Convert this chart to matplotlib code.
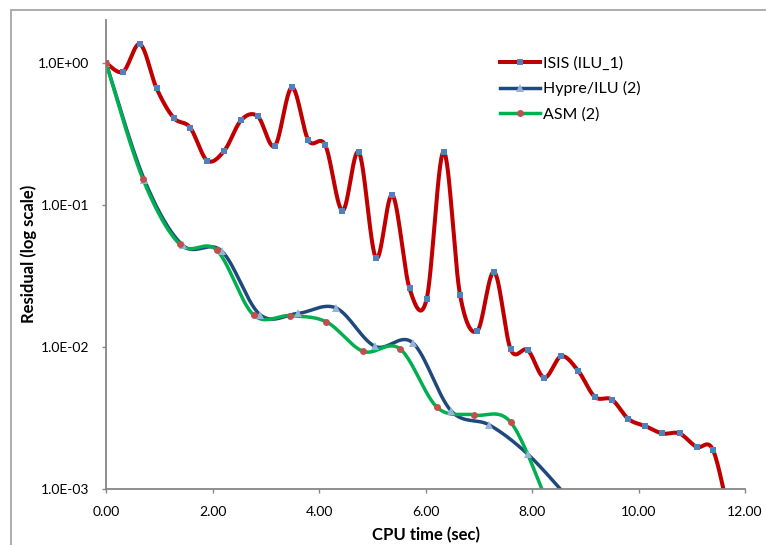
import numpy as np
import matplotlib
matplotlib.use("Agg")
import matplotlib.pyplot as plt
from matplotlib.patches import Rectangle
from matplotlib.lines import Line2D

plt.rcParams['font.family'] = ['Lato', 'DejaVu Sans']

# ---- data ----
isis_x = [0.00, 0.32, 0.64, 0.95, 1.27, 1.58, 1.90, 2.22, 2.54, 2.85, 3.17, 3.49,
          3.80, 4.12, 4.44, 4.75, 5.07, 5.38, 5.70, 6.02, 6.34, 6.65, 6.97, 7.29,
          7.60, 7.92, 8.23, 8.55, 8.87, 9.18, 9.50, 9.81, 10.13, 10.45, 10.77,
          11.09, 11.40, 11.72]
isis_y = [1.0, 0.865, 1.35, 0.66, 0.41, 0.35, 0.205, 0.24, 0.395, 0.42, 0.26, 0.67,
          0.285, 0.262, 0.091, 0.234, 0.0423, 0.117, 0.0258, 0.0216, 0.236, 0.0231,
          0.0129, 0.0337, 0.0096, 0.0095, 0.00608, 0.0086, 0.00677, 0.00445,
          0.00426, 0.00311, 0.00277, 0.00246, 0.00246, 0.00198, 0.00188, 0.0006]

hypre_x = [0.00, 0.72, 1.44, 2.17, 2.89, 3.60, 4.32, 5.05, 5.76, 6.48, 7.20, 7.92, 8.64]
hypre_y = [1.0, 0.150, 0.052, 0.0474, 0.0169, 0.0172, 0.0188, 0.0101, 0.0107,
           0.00355, 0.00282, 0.00176, 0.0009]

asm_x = [0.00, 0.69, 1.39, 2.08, 2.77, 3.46, 4.14, 4.83, 5.52, 6.22, 6.91, 7.60, 8.29]
asm_y = [1.0, 0.153, 0.0526, 0.048, 0.0168, 0.0166, 0.0150, 0.0093, 0.0097,
         0.00375, 0.00332, 0.00295, 0.0008]

labels = ["ISIS (ILU_1)", "Hypre/ILU (2)", "ASM (2)"]
x_ticks = [0, 2, 4, 6, 8, 10, 12]
x_tick_labels = ["0.00", "2.00", "4.00", "6.00", "8.00", "10.00", "12.00"]
y_ticks = [1e-3, 1e-2, 1e-1, 1e0]
y_tick_labels = ["1.0E-03", "1.0E-02", "1.0E-01", "1.0E+00"]


def smooth(xs, ys, n=30):
    """Excel-style smoothed line (Bezier through points) in x / log10(y) space."""
    px = np.asarray(xs, float)
    py = np.log10(np.asarray(ys, float))
    P = np.column_stack([px, py])
    Pe = np.vstack([P[0], P, P[-1]])
    out = []
    t = np.linspace(0, 1, n)[:, None]
    for i in range(len(P) - 1):
        p0, p1, p2, p3 = Pe[i], Pe[i + 1], Pe[i + 2], Pe[i + 3]
        c1 = p1 + (p2 - p0) / 6.0
        c2 = p2 - (p3 - p1) / 6.0
        seg = ((1 - t) ** 3) * p1 + 3 * ((1 - t) ** 2) * t * c1 + 3 * (1 - t) * t ** 2 * c2 + t ** 3 * p2
        out.append(seg if i == 0 else seg[1:])
    S = np.vstack(out)
    return S[:, 0], 10 ** S[:, 1]


W, H = 766, 545
fig = plt.figure(figsize=(W / 100, H / 100), dpi=100)
fig.patches.append(Rectangle((11 / W, -0.1), 1.2, 1 - 10 / H + 0.1, transform=fig.transFigure,
                             fill=False, edgecolor='#A6A6A6', linewidth=1.3))

ax = fig.add_axes([106 / W, 1 - 489 / H, (745 - 106) / W, (489 - 20) / H])

series = [
    (isis_x, isis_y, '#C00000', 2.9, 's', '#4F81BD', 5.0),
    (hypre_x, hypre_y, '#1F497D', 2.5, '^', '#95B3D7', 5.5),
    (asm_x, asm_y, '#00B050', 2.5, 'o', '#C0504D', 5.0),
]
handles = []
for k, (xs, ys, lc, lw, mk, mc, ms) in enumerate(series):
    sx, sy = smooth(xs, ys)
    ax.plot(sx, sy, color=lc, lw=lw, solid_capstyle='round', zorder=2 + k * 0.1)
    ax.plot(xs, ys, linestyle='none', marker=mk, markersize=ms, color=mc,
            markeredgewidth=0, zorder=4 + k * 0.1)
    handles.append(Line2D([], [], color=lc, lw=lw, marker=mk, markersize=ms,
                          markerfacecolor=mc, markeredgewidth=0))

ax.set_yscale('log')
ax.set_xlim(0, 12)
ax.set_ylim(1e-3, 2.0)
ax.set_xticks(x_ticks)
ax.set_xticklabels(x_tick_labels)
ax.set_yticks(y_ticks)
ax.set_yticklabels(y_tick_labels)
ax.yaxis.set_minor_locator(matplotlib.ticker.NullLocator())

for s in ['top', 'right']:
    ax.spines[s].set_visible(False)
for s in ['left', 'bottom']:
    ax.spines[s].set_color('#868686')
    ax.spines[s].set_linewidth(1.3)
ax.tick_params(axis='both', which='major', direction='out', length=3, width=1.0,
               color='#868686', labelsize=10, labelcolor='#000000')
ax.tick_params(axis='x', pad=9.5)
ax.tick_params(axis='y', pad=9)

ax.set_xlabel('CPU time (sec)', fontsize=12, fontweight='bold', va='center', ha='center')
ax.xaxis.set_label_coords(0.5, -(535 - 489) / (489 - 20))
ax.set_ylabel('Residual (log scale)', fontsize=12, fontweight='bold', va='center', ha='center')
ax.yaxis.set_label_coords(-(106 - 29) / (745 - 106), (489 - 254) / (489 - 20))

leg = ax.legend(handles, labels, loc='upper left',
                bbox_to_anchor=(500 / W, 1 - 56 / H), bbox_transform=fig.transFigure,
                frameon=False, fontsize=11.5, handlelength=2.5, handletextpad=0.2,
                labelspacing=0.68, borderpad=0, borderaxespad=0)

fig.savefig('out.png', dpi=100)
